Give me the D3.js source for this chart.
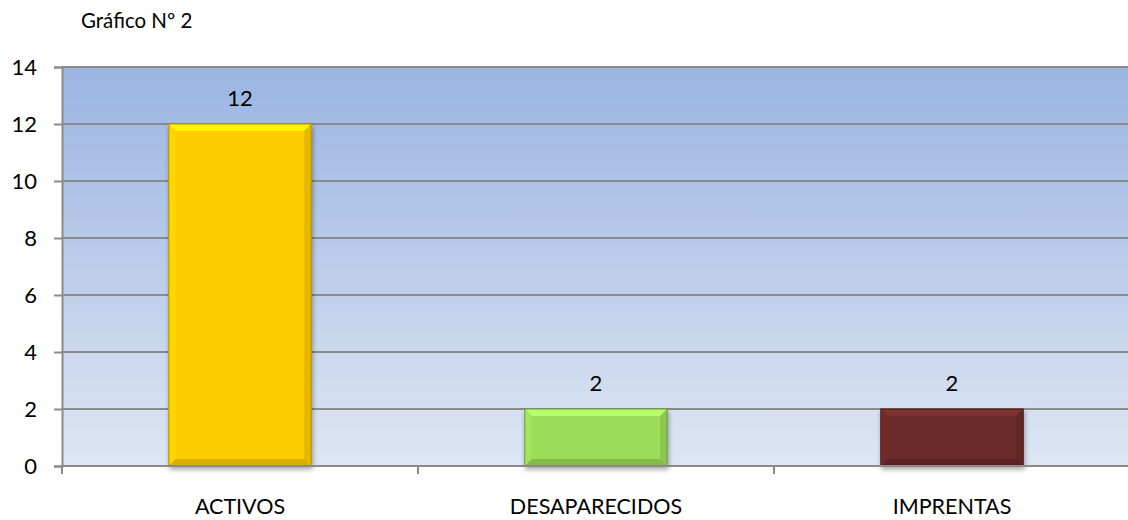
<!DOCTYPE html>
<html>
<head>
<meta charset="utf-8">
<script src="https://cdn.jsdelivr.net/npm/d3@7.9.0/dist/d3.min.js"></script>
<style>
  body { margin: 0; background: #fff; }
  svg text { font-family: Lato, "Open Sans", sans-serif; fill: #000; }
</style>
</head>
<body>
<svg id="chart" width="1128" height="520"></svg>
<script>
const categories = ['ACTIVOS', 'DESAPARECIDOS', 'IMPRENTAS'];
const values = [12, 2, 2];
const barColors = ['#ffcc00', '#9bdc59', '#6b2a2a'];
const yTicks = [0, 2, 4, 6, 8, 10, 12, 14];

const svg = d3.select('#chart');
const margin = { top: 67, right: -2, bottom: 54, left: 62 };
const width = 1128 - margin.left - margin.right;
const height = 520 - margin.top - margin.bottom;

// background gradient of the plot area
const defs = svg.append('defs');
const grad = defs.append('linearGradient')
    .attr('id', 'bg').attr('x1', 0).attr('y1', 0).attr('x2', 0).attr('y2', 1);
grad.append('stop').attr('offset', '0%').attr('stop-color', '#9ab4e2');
grad.append('stop').attr('offset', '100%').attr('stop-color', '#dee6f3');

const shadow = defs.append('filter').attr('id', 'shadow')
    .attr('x', '-10%').attr('y', '-10%').attr('width', '130%').attr('height', '130%');
shadow.append('feGaussianBlur').attr('in', 'SourceAlpha').attr('stdDeviation', 2.5);
shadow.append('feOffset').attr('dx', 1).attr('dy', 3).attr('result', 'b');
shadow.append('feComponentTransfer').append('feFuncA').attr('type', 'linear').attr('slope', 0.35);
let merge = shadow.append('feMerge');
merge.append('feMergeNode');
merge.append('feMergeNode').attr('in', 'SourceGraphic');

svg.append('text')
    .attr('x', 81).attr('y', 28)
    .attr('font-size', 20.5)
    .text('Gráfico Nº 2');

const g = svg.append('g').attr('transform', `translate(${margin.left},${margin.top})`);

let x = d3.scaleBand().domain(categories).range([0, width]).paddingInner(0).paddingOuter(0);
let y = d3.scaleLinear().domain([0, 14]).range([height, 0]);

g.append('rect')
    .attr('width', width).attr('height', height)
    .attr('fill', 'url(#bg)');

// gridlines
g.selectAll('line.grid')
    .data(yTicks.filter(d => d > 0))
    .enter()
    .append('line')
    .attr('class', 'grid')
    .attr('x1', 0).attr('x2', width)
    .attr('y1', d => y(d)).attr('y2', d => y(d))
    .attr('stroke', '#8a8a8a')
    .attr('stroke-width', 2);

// bars with bevel
const bw = x.bandwidth() * 0.4;
const bevel = 7;
categories.forEach((c, i) => {
  let x0 = x(c) + (x.bandwidth() - bw) / 2;
  let x1 = x0 + bw;
  let y0 = y(values[i]);
  let y1 = y(0);
  let base = d3.color(barColors[i]);
  let bar = g.append('g').attr('filter', 'url(#shadow)');
  bar.append('rect')
      .attr('x', x0).attr('y', y0).attr('width', bw).attr('height', y1 - y0)
      .attr('fill', base);
  let pts = (arr) => arr.map(p => p.join(',')).join(' ');
  // top
  bar.append('polygon')
      .attr('points', pts([[x0, y0], [x1, y0], [x1 - bevel, y0 + bevel], [x0 + bevel, y0 + bevel]]))
      .attr('fill', base.brighter(0.5));
  // left
  bar.append('polygon')
      .attr('points', pts([[x0, y0], [x0 + bevel, y0 + bevel], [x0 + bevel, y1 - bevel], [x0, y1]]))
      .attr('fill', base.brighter(0.12));
  // right
  bar.append('polygon')
      .attr('points', pts([[x1, y0], [x1, y1], [x1 - bevel, y1 - bevel], [x1 - bevel, y0 + bevel]]))
      .attr('fill', base.darker(0.3));
  // bottom
  bar.append('polygon')
      .attr('points', pts([[x0, y1], [x1, y1], [x1 - bevel, y1 - bevel], [x0 + bevel, y1 - bevel]]))
      .attr('fill', base.darker(0.45));
  bar.append('rect')
      .attr('x', x0).attr('y', y0).attr('width', bw).attr('height', y1 - y0)
      .attr('fill', 'none')
      .attr('stroke', base.darker(1))
      .attr('stroke-width', 1);
});

// value labels
g.selectAll('text.val')
    .data(values)
    .enter()
    .append('text')
    .attr('class', 'val')
    .attr('x', (d, i) => x(categories[i]) + x.bandwidth() / 2)
    .attr('y', d => y(d) - 18)
    .attr('text-anchor', 'middle')
    .attr('font-size', 22)
    .text(d => d);

// axes
let yAxis = d3.axisLeft(y).tickValues(yTicks).tickSize(8).tickPadding(17);
let ya = g.append('g').call(yAxis);
ya.select('.domain').attr('stroke', '#8a8a8a').attr('stroke-width', 2);
ya.selectAll('.tick line').attr('stroke', '#8a8a8a').attr('stroke-width', 2);
ya.selectAll('text').attr('font-size', 22).attr('font-family', 'Lato, sans-serif').attr('fill', '#000');

let xa = g.append('g').attr('transform', `translate(0,${height})`);
xa.append('line')
    .attr('x1', 0).attr('x2', width)
    .attr('stroke', '#8a8a8a').attr('stroke-width', 2);
xa.selectAll('line.tk')
    .data(categories.slice(1))
    .enter()
    .append('line')
    .attr('class', 'tk')
    .attr('x1', d => x(d)).attr('x2', d => x(d))
    .attr('y1', 0).attr('y2', 8)
    .attr('stroke', '#8a8a8a').attr('stroke-width', 2);
xa.append('line').attr('x1', 0).attr('x2', 0).attr('y1', 0).attr('y2', 8)
    .attr('stroke', '#8a8a8a').attr('stroke-width', 2);
xa.selectAll('text')
    .data(categories)
    .enter()
    .append('text')
    .attr('x', d => x(d) + x.bandwidth() / 2)
    .attr('y', 48)
    .attr('text-anchor', 'middle')
    .attr('font-size', 21.5)
    .text(d => d);
</script>
</body>
</html>
